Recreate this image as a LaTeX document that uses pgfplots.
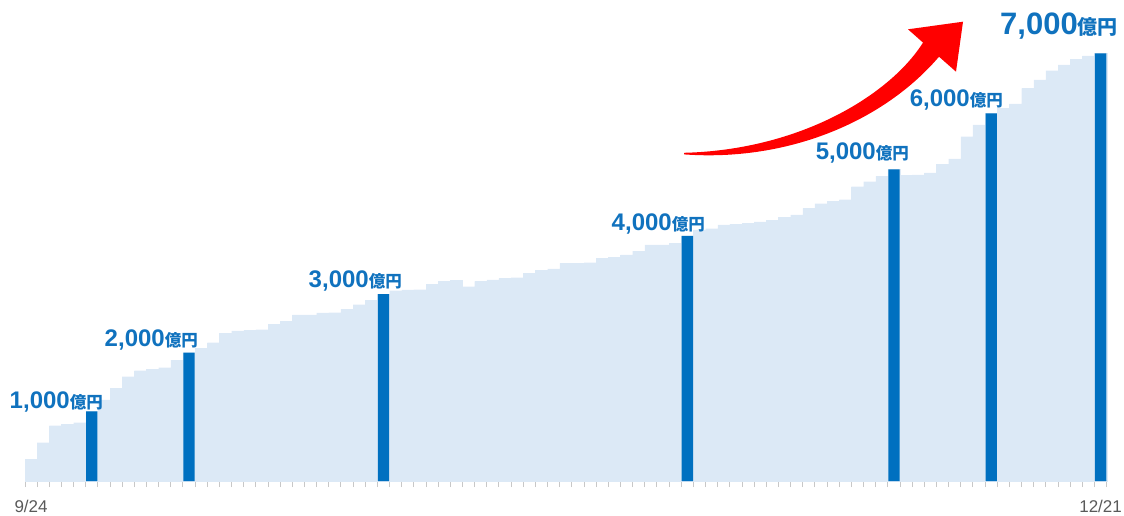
\documentclass[border=0pt]{standalone}
\usepackage{fontspec}
\setmainfont{Liberation Sans}
\newfontfamily\cjk{Noto Sans CJK JP}
\usepackage{pgfplots}
\pgfplotsset{compat=1.18}
\definecolor{darkb}{RGB}{0,112,192}
\definecolor{lightb}{RGB}{220,233,246}
\definecolor{lbl}{RGB}{16,114,190}
\definecolor{axgray}{RGB}{217,217,217}
\definecolor{tickgray}{RGB}{200,200,200}
\definecolor{txtgray}{RGB}{89,89,89}
\newcommand{\oku}[3]{{\fontsize{#1}{#1}\selectfont\bfseries #3\cjk\fontsize{#2}{#2}\selectfont 億円}}
\begin{document}
\begin{tikzpicture}[x=1pt,y=1pt]
\useasboundingbox (0pt,0pt) rectangle (1124pt,515pt);
\begin{axis}[
  at={(25pt,34pt)}, anchor=south west,
  scale only axis, width=1081.7pt, height=481pt,
  xmin=-0.5, xmax=88.5, ymin=0, ymax=7872,
  axis y line=none, axis x line*=bottom,
  x axis line style={draw=axgray, line width=1.5pt, -},
  xtick={0,88}, xticklabels={9/24,12/21},
  major tick length=0pt,
  minor xtick={-0.5,0.5,...,88.5},
  minor tick length=6pt,
  tick align=outside,
  minor tick style={draw=tickgray, line width=1pt},
  xticklabel style={anchor=base, yshift=-31.7pt, text=txtgray, font=\fontsize{17}{17}\selectfont},
  clip=false,
]
\addplot[ybar, bar width=1, bar shift=0pt, fill=lightb, draw=lightb, line width=0.2pt] coordinates {
(0,355) (1,627) (2,905) (3,928) (4,954) (5,1141) (6,1326) (7,1517) (8,1707) (9,1805)
(10,1828) (11,1854) (12,1980) (13,2100) (14,2172) (15,2264) (16,2414) (17,2455) (18,2466) (19,2476)
(20,2565) (21,2614) (22,2717) (23,2717) (24,2750) (25,2755) (26,2812) (27,2885) (28,2962) (29,3057)
(30,3115) (31,3126) (32,3131) (33,3224) (34,3273) (35,3282) (36,3180) (37,3268) (38,3290) (39,3318)
(40,3327) (41,3404) (42,3453) (43,3473) (44,3563) (45,3563) (46,3573) (47,3645) (48,3666) (49,3699)
(50,3764) (51,3863) (52,3863) (53,3890) (54,4010) (55,4108) (56,4129) (57,4190) (58,4206) (59,4218)
(60,4239) (61,4264) (62,4316) (63,4354) (64,4463) (65,4538) (66,4578) (67,4604) (68,4817) (69,4899)
(70,4987) (71,5101) (72,5000) (73,5008) (74,5041) (75,5188) (76,5273) (77,5635) (78,5827) (79,6018)
(80,6100) (81,6170) (82,6427) (83,6563) (84,6715) (85,6809) (86,6902) (87,6956) (88,7000)
};
\addplot[ybar, bar width=0.93, bar shift=0pt, fill=darkb, draw=none] coordinates {
(5,1141) (13,2100) (29,3057) (54,4010) (71,5101) (79,6018) (88,7000)
};
\end{axis}
% red arrow
\fill[red] (684,362.2) .. controls (800,365) and (890,420) .. (923,472.4) -- (908,485.7) -- (963,493.3) -- (956,443.3) -- (939,458.3) .. controls (885,395) and (790,353) .. (684,360.6) -- cycle;
% milestone labels
\begin{scope}[every node/.style={anchor=base east, inner sep=0pt, text=lbl}]
\node at (103,106.5) {\oku{24}{16.5}{1,000}};
\node at (198,168.3) {\oku{24}{16.5}{2,000}};
\node at (402,227.7) {\oku{24}{16.5}{3,000}};
\node at (705,285) {\oku{24}{16.5}{4,000}};
\node at (909,355) {\oku{24}{16.5}{5,000}};
\node at (1003,408.3) {\oku{24}{16.5}{6,000}};
\node at (1118,480.7) {\oku{31}{20}{7,000}};
\end{scope}
\end{tikzpicture}
\end{document}
